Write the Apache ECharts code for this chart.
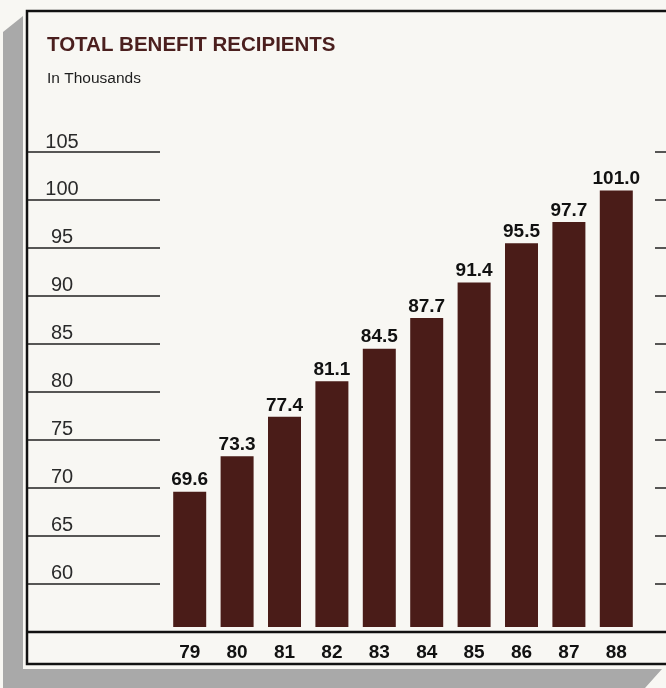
<!DOCTYPE html>
<html>
<head>
<meta charset="utf-8">
<script src="https://cdn.jsdelivr.net/npm/echarts@6/dist/echarts.min.js"></script>
<style>
html,body{margin:0;padding:0;background:#f8f7f3;}
#c{width:666px;height:688px;}
</style>
</head>
<body>
<div id="c"></div>
<script>
var categories = ['79','80','81','82','83','84','85','86','87','88'];
var values = [69.6, 73.3, 77.4, 81.1, 84.5, 87.7, 91.4, 95.5, 97.7, 101.0];
var yTickValues = [60, 65, 70, 75, 80, 85, 90, 95, 100, 105];
var titleText = 'TOTAL BENEFIT RECIPIENTS';
var subtitleText = 'In Thousands';

var chart = echarts.init(document.getElementById('c'), null, {renderer: 'canvas'});
var yMin = 55.5, yMax = 105;
chart.setOption({
  backgroundColor: '#f8f7f3',
  animation: false,
  title: {
    text: titleText,
    subtext: subtitleText,
    left: 47, top: 33, padding: 0, itemGap: 13,
    textStyle: {fontFamily: 'Liberation Sans', fontWeight: 'bold', fontSize: 20.5, color: '#4b1f1e', lineHeight: 24},
    subtextStyle: {fontFamily: 'Liberation Sans', fontSize: 15.5, color: '#1e1e1e', lineHeight: 18}
  },
  graphic: [
    {type: 'polygon', z: -5, shape: {points: [[3,32],[23,16],[23,669],[662,669],[645,688],[3,688]]}, style: {fill: '#a9a9a9'}},
    {type: 'rect', z: -4, shape: {x: 27, y: 11, width: 680, height: 653}, style: {fill: '#f8f7f3', stroke: '#111', lineWidth: 2.5}},
    {type: 'line', z: 10, shape: {x1: 27, y1: 632, x2: 680, y2: 632}, style: {stroke: '#111', lineWidth: 2.5}}
  ],
  grid: {left: 166, right: 26, top: 152, bottom: 61, containLabel: false},
  xAxis: {
    type: 'category',
    data: categories,
    axisLine: {show: false},
    axisTick: {show: false},
    axisLabel: {margin: 16, fontFamily: 'Liberation Sans', fontWeight: 'bold', fontSize: 19, color: '#111'}
  },
  yAxis: [
    {
      type: 'value', min: yMin, max: yMax, position: 'left', offset: 6,
      splitLine: {show: false},
      axisLine: {show: false},
      axisTick: {show: true, customValues: yTickValues, length: 132, lineStyle: {color: '#222', width: 1.5}},
      axisLabel: {customValues: yTickValues, margin: 98, align: 'center', verticalAlign: 'bottom', lineHeight: 20, padding: 0,
        fontFamily: 'Liberation Sans', fontSize: 20, color: '#2a2a2a'}
    },
    {
      type: 'value', min: yMin, max: yMax, position: 'right', offset: 15,
      splitLine: {show: false},
      axisLine: {show: false},
      axisTick: {show: true, customValues: yTickValues, length: 11, lineStyle: {color: '#222', width: 1.5}},
      axisLabel: {show: false}
    }
  ],
  series: [{
    type: 'bar',
    data: values,
    barWidth: 33,
    itemStyle: {color: '#4a1c18'},
    label: {
      show: true, position: 'top', distance: 2,
      formatter: function(p){ return p.value.toFixed(1); },
      fontFamily: 'Liberation Sans', fontWeight: 'bold', fontSize: 19, color: '#111'
    }
  }]
});
</script>
</body>
</html>
